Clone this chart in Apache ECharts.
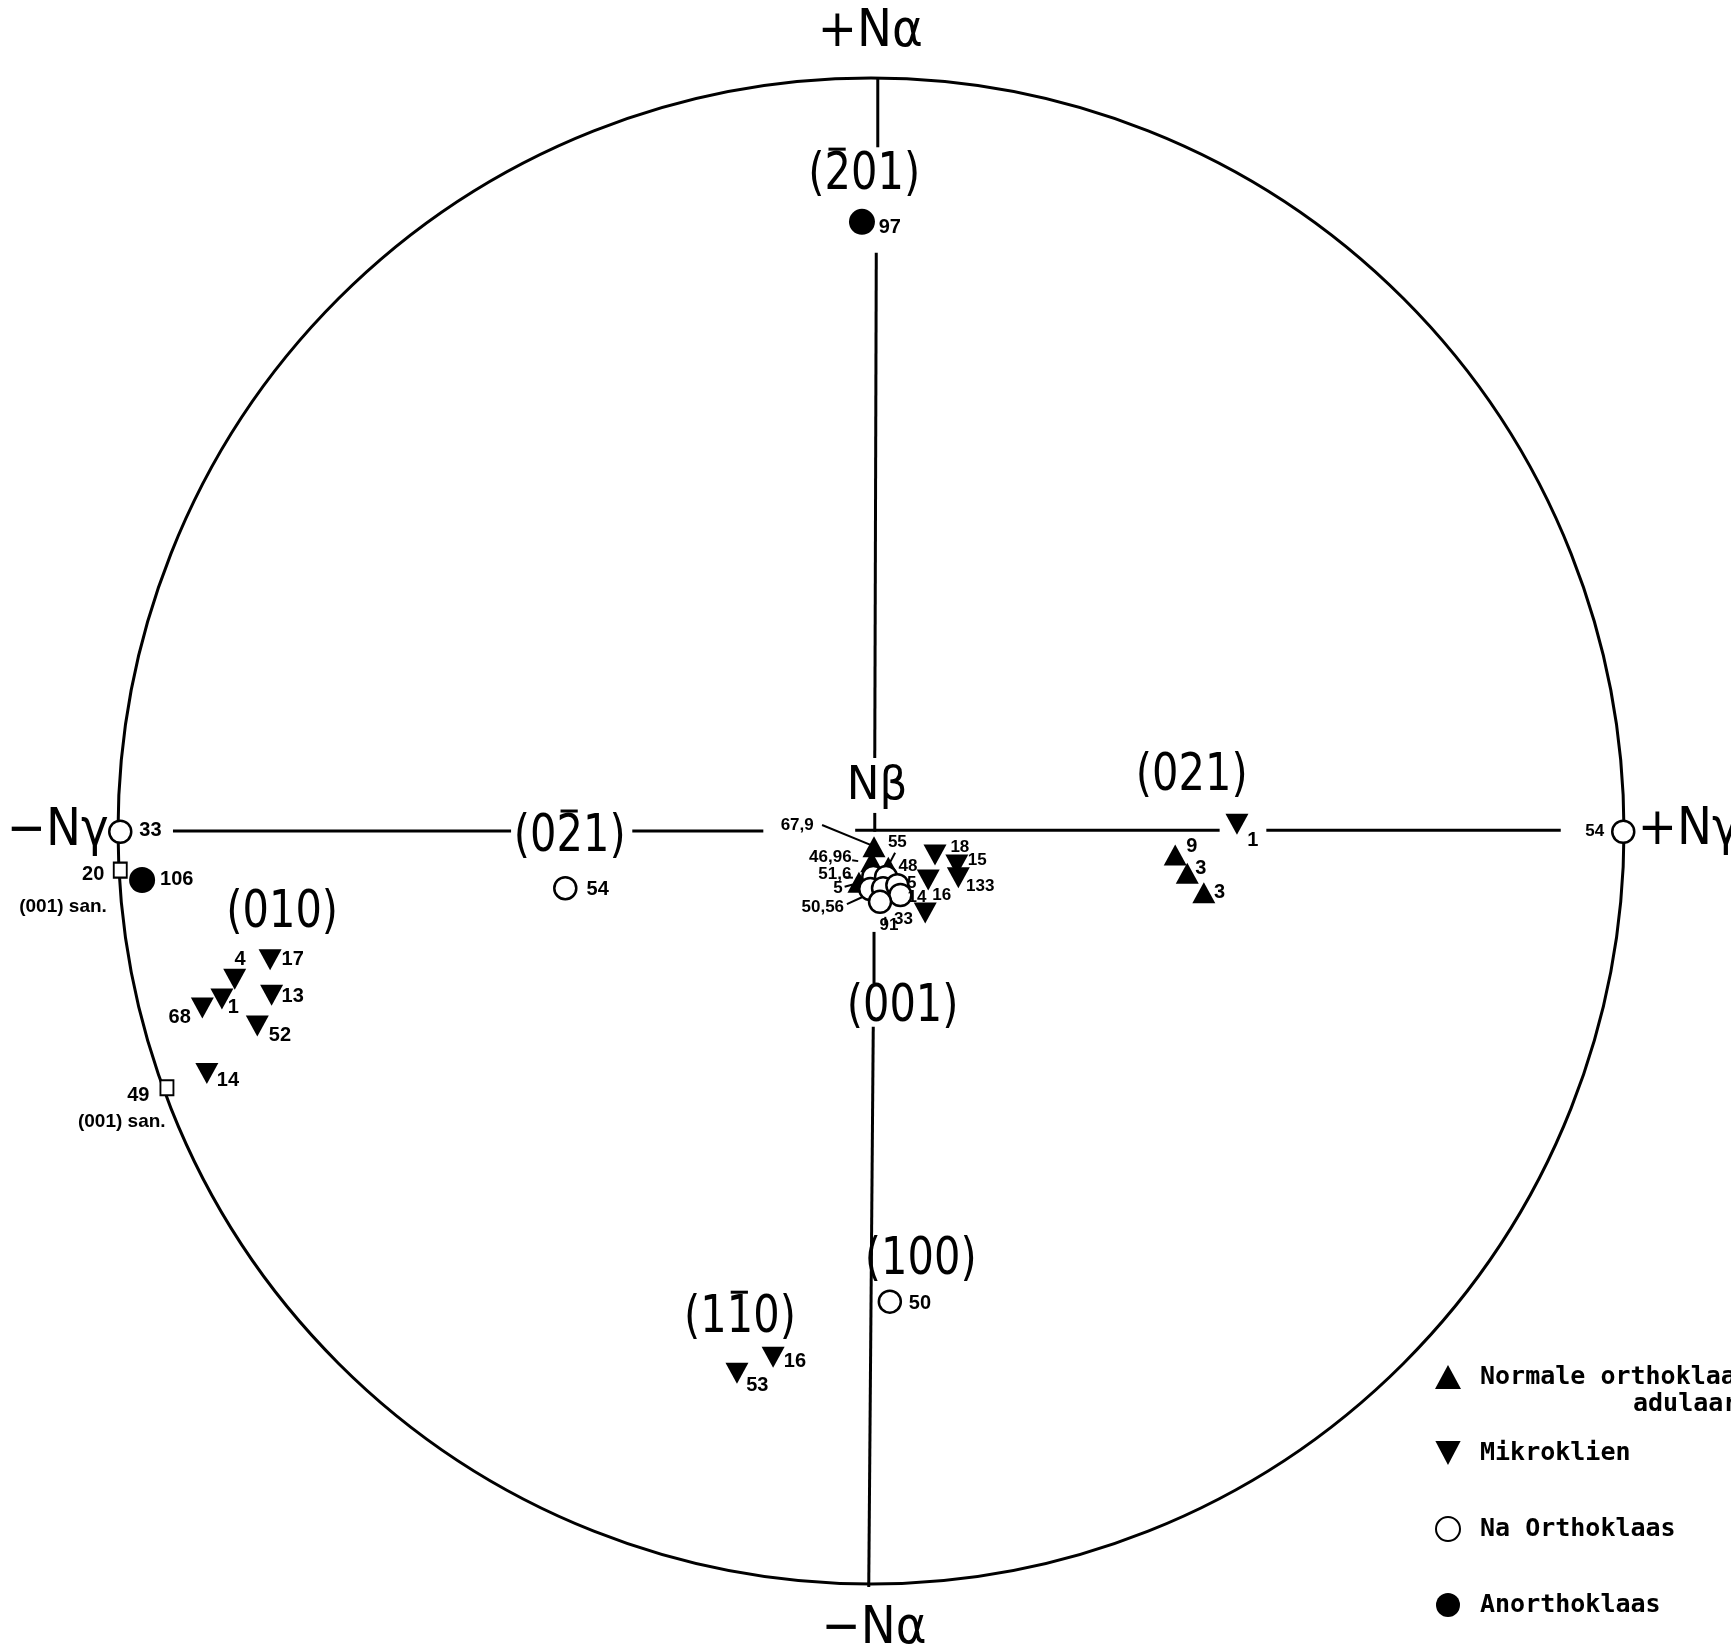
<!DOCTYPE html>
<html><head><meta charset="utf-8">
<script src="https://cdn.jsdelivr.net/npm/echarts@6/dist/echarts.min.js"></script>
<style>html,body{margin:0;padding:0;background:#fff}#c{width:1731px;height:1651px}</style>
</head><body><div id="c"></div>
<script>
// Projection coordinates (unit circle = primitive circle)
const normaleOrthoklaas = [[0.004,-0.021],[0.001,-0.041],[0.023,-0.048],[-0.016,-0.068],[0.404,-0.032],[0.420,-0.056],[0.442,-0.082]];
const mikroklien = [[0.085,-0.032],[0.114,-0.045],[0.076,-0.065],[0.116,-0.062],[0.072,-0.109],[0.486,0.009],
  [-0.798,-0.171],[-0.845,-0.197],[-0.862,-0.223],[-0.888,-0.235],[-0.796,-0.218],[-0.815,-0.259],[-0.882,-0.322],
  [-0.130,-0.699],[-0.178,-0.720]];
const naOrthoklaas = [[-0.997,-0.001],[-0.406,-0.076],[0.999,-0.001],[0.025,-0.625],
  [0.003,-0.061],[0.020,-0.061],[-0.001,-0.077],[0.016,-0.076],[0.035,-0.072],[0.039,-0.085],[0.012,-0.094]];
const anorthoklaas = [[-0.012,0.809],[-0.968,-0.065]];
const sanidine001 = [[-0.997,-0.052],[-0.935,-0.341]];

const seriesNames = ['Normale orthoklaas en','Mikroklien','Na Orthoklaas','Anorthoklaas'];

// Texts: [text, x, y]
const axisTitles = [['+N\u03b1',-0.001,1.061],['\u2212N\u03b1',0.004,-1.060],['\u2212N\u03b3',-1.080,-0.001],['+N\u03b3',1.086,0.001]];
const betaTitle = [['N\u03b2',0.008,0.058]];
const faceLabels = [['(2\u030401)',-0.009,0.871],['(02\u03041)',-0.400,-0.008],['(021)',0.426,0.073],['(010)',-0.782,-0.109],
  ['(001)',0.042,-0.234],['(100)',0.066,-0.570],['(11\u03040)',-0.174,-0.647]];
const sampleLabels = [['33',-0.957,0.001],['20',-1.033,-0.058],['106',-0.922,-0.065],['49',-0.973,-0.351],
  ['4',-0.838,-0.171],['17',-0.768,-0.171],['1',-0.847,-0.234],['68',-0.918,-0.248],['13',-0.768,-0.220],['52',-0.785,-0.271],['14',-0.854,-0.331],
  ['97',0.025,0.802],['54',-0.363,-0.078],['1',0.507,-0.012],['9',0.426,-0.021],['3',0.438,-0.050],['3',0.463,-0.081],
  ['50',0.065,-0.627],['16',-0.101,-0.705],['53',-0.151,-0.736]];
const clusterLabels = [['67,9',-0.098,0.008],['46,96',-0.054,-0.035],['55',0.035,-0.015],['48',0.049,-0.047],['51,6',-0.048,-0.058],
  ['5',-0.044,-0.076],['5',0.054,-0.070],['14',0.061,-0.088],['50,56',-0.064,-0.101],['91',0.024,-0.125],['33',0.043,-0.117],
  ['18',0.118,-0.021],['15',0.141,-0.039],['16',0.094,-0.085],['133',0.145,-0.074],['54',0.961,-0.001]];
const sanLabels = [['(001) san.',-1.073,-0.101],['(001) san.',-0.995,-0.386]];

// Reference lines [x1,y1,x2,y2]
const axisSegments = [[-0.927,0,-0.478,0],[-0.317,0,-0.143,0],[-0.021,0.001,0.463,0.001],[0.525,0.001,0.916,0.001],
  [0.009,1.0,0.009,0.908],[0.007,0.768,0.005,0.097],[0.005,0.024,0.005,-0.001],[0.004,-0.134,0.004,-0.202],[0.003,-0.260,-0.003,-1.004]];
const leaderLines = [[-0.065,0.008,0.001,-0.019],[0.032,-0.029,0.024,-0.044],[-0.032,-0.097,-0.012,-0.088],
  [-0.025,-0.039,-0.017,-0.040],[-0.036,-0.061,-0.024,-0.062],[-0.035,-0.074,-0.024,-0.071],[0.019,-0.125,0.019,-0.114]];

const BIG = "'DejaVu Sans','Liberation Sans',sans-serif";
const SANS = "'Liberation Sans','DejaVu Sans',sans-serif";
const MONO = "'DejaVu Sans Mono','Liberation Mono',monospace";

const mctx = document.createElement('canvas').getContext('2d');
function measure(t, size, family, weight){ mctx.font = weight + ' ' + size + 'px ' + family; return mctx.measureText(t).width; }

function textSeries(list, size, family, weight, sx){
  return {type:'custom', coordinateSystem:'cartesian2d', silent:true, z:6, clip:false,
    data:list.map(d=>[d[1],d[2]]),
    renderItem:(params, api)=>{
      const p = api.coord([api.value(0), api.value(1)]);
      const raw = list[params.dataIndex][0];
      const k = raw.indexOf('\u0304');
      const plain = raw.replace('\u0304','');
      const children = [{type:'text', x:0, y:0, style:{text:plain, fontSize:size, fontFamily:family, fontWeight:weight,
        fill:'#000', align:'center', verticalAlign:'middle'}}];
      if (k > 0) {
        const W = measure(plain, size, family, weight);
        const x0 = measure(plain.slice(0, k-1), size, family, weight) - W/2;
        const cw = measure(plain[k-1], size, family, weight);
        const yb = -size*0.5;
        children.push({type:'line', shape:{x1:x0+cw*0.15, y1:yb, x2:x0+cw*0.8, y2:yb}, style:{stroke:'#000', lineWidth:3}});
      }
      return {type:'group', x:p[0], y:p[1], scaleX:sx || 1, children};
    }};
}
function lineSeries(list, width){
  return {type:'custom', coordinateSystem:'cartesian2d', silent:true, z:1, clip:false,
    encode:{x:[0,2], y:[1,3]},
    data:list,
    renderItem:(params, api)=>{
      const a = api.coord([api.value(0), api.value(1)]);
      const b = api.coord([api.value(2), api.value(3)]);
      return {type:'line', shape:{x1:a[0],y1:a[1],x2:b[0],y2:b[1]}, style:{stroke:'#000', lineWidth:width}};
    }};
}

const chart = echarts.init(document.getElementById('c'), null, {renderer:'canvas'});
chart.setOption({
  backgroundColor:'#fff',
  animation:false,
  grid:{left:118, top:78, width:1506, height:1506},
  xAxis:{type:'value', min:-1, max:1, show:false},
  yAxis:{type:'value', min:-1, max:1, show:false},
  legend:{
    data:seriesNames, orient:'vertical', left:1430, top:1357, itemWidth:26, itemHeight:24, itemGap:46,
    selectedMode:false,
    textStyle:{fontFamily:MONO, fontSize:25, fontWeight:'bold', color:'#000', lineHeight:30, padding:[0,0,0,14]}
  },
  graphic:[{type:'text', left:1633, top:1392, style:{text:'adulaar', fontFamily:MONO, fontSize:25, fontWeight:'bold', fill:'#000'}}],
  series:[
    {type:'custom', coordinateSystem:'cartesian2d', silent:true, z:1, clip:false, data:[[0,0]],
      renderItem:(params, api)=>{
        const c = api.coord([0,0]); const r = api.size([1,0])[0];
        return {type:'circle', shape:{cx:c[0], cy:c[1], r:r}, style:{fill:'none', stroke:'#000', lineWidth:3}};
      }},
    lineSeries(axisSegments, 3),
    lineSeries(leaderLines, 2),
    {name:seriesNames[0], type:'scatter', data:normaleOrthoklaas, symbol:'triangle', symbolSize:[23,21], clip:false, z:4,
      itemStyle:{color:'#000', opacity:1}},
    {name:seriesNames[1], type:'scatter', data:mikroklien, symbol:'path://M0,0L20,0L10,19Z', symbolSize:[23,21], symbolKeepAspect:false, clip:false, z:4,
      itemStyle:{color:'#000', opacity:1}},
    {name:seriesNames[2], type:'scatter', data:naOrthoklaas, symbol:'circle', symbolSize:22, clip:false, z:5,
      itemStyle:{color:'#fff', borderColor:'#000', borderWidth:2.5, opacity:1}},
    {name:seriesNames[3], type:'scatter', data:anorthoklaas, symbol:'circle', symbolSize:26, clip:false, z:4,
      itemStyle:{color:'#000', opacity:1}},
    {name:'(001) sanidien', type:'scatter', data:sanidine001, symbol:'rect', symbolSize:[13,15], clip:false, z:4,
      itemStyle:{color:'#fff', borderColor:'#000', borderWidth:2, opacity:1}},
    textSeries(axisTitles, 52, BIG, 'normal', 0.9),
    textSeries(betaTitle, 46, BIG, 'normal', 0.95),
    textSeries(faceLabels, 52, BIG, 'normal', 0.8),
    textSeries(sampleLabels, 20, SANS, 'bold'),
    textSeries(clusterLabels, 17, SANS, 'bold'),
    textSeries(sanLabels, 19, SANS, 'bold')
  ]
});
</script></body></html>
